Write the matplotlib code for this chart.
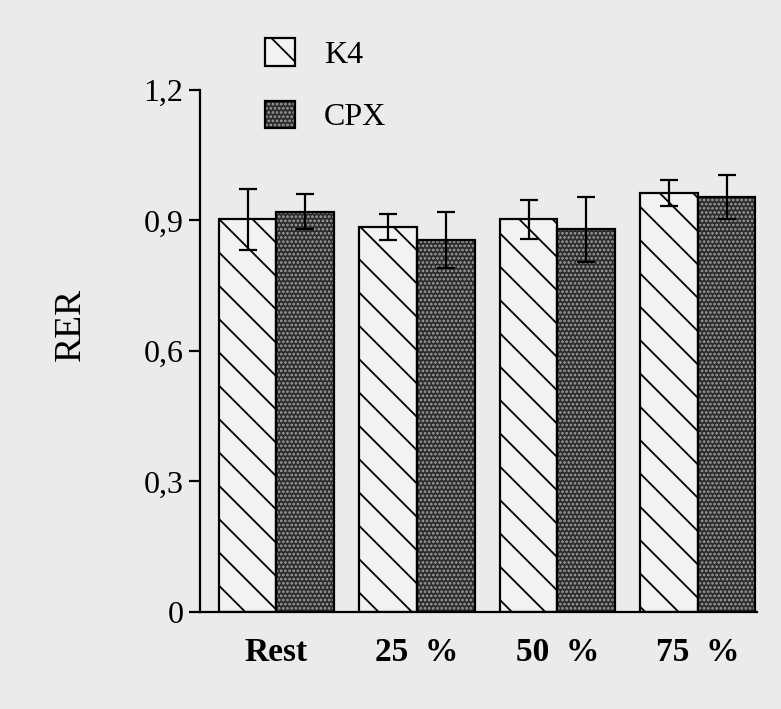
import matplotlib
matplotlib.use("Agg")
import matplotlib.pyplot as plt
import numpy as np
from matplotlib.legend_handler import HandlerTuple

# Daten
groups = ["Rest", "25  %", "50  %", "75  %"]
k4_mean = [0.903, 0.885, 0.903, 0.963]
k4_err = [0.070, 0.030, 0.045, 0.030]
cpx_mean = [0.920, 0.855, 0.880, 0.954]
cpx_err = [0.040, 0.065, 0.075, 0.050]
yticks = [0, 0.3, 0.6, 0.9, 1.2]
yticklabels = ["0", "0,3", "0,6", "0,9", "1,2"]

plt.rcParams["font.family"] = ["Liberation Serif", "DejaVu Serif"]
plt.rcParams["hatch.linewidth"] = 1.3

bg = "#ebebeb"
fig = plt.figure(figsize=(7.81, 7.09), dpi=100, facecolor=bg)
ax = fig.add_axes([0.256, 0.137, 0.713, 0.736])
ax.set_facecolor(bg)

x = np.arange(len(groups))
w = 0.41

# K4: hell mit Schraffur
k4_fill = ax.bar(x - w / 2, k4_mean, w, facecolor="#f2f2f2", edgecolor="black",
                 hatch="\\", linewidth=0, zorder=2)
k4_box = ax.bar(x - w / 2, k4_mean, w, fill=False, edgecolor="black",
                linewidth=1.6, zorder=3)
# CPX: dunkles Punktraster
cpx_fill = ax.bar(x + w / 2, cpx_mean, w, facecolor="#2c2c2c", edgecolor="#a0a0a0",
                  hatch="....", linewidth=0, zorder=2)
cpx_box = ax.bar(x + w / 2, cpx_mean, w, fill=False, edgecolor="black",
                 linewidth=1.6, zorder=3)

ax.errorbar(x - w / 2, k4_mean, yerr=k4_err, fmt="none", ecolor="black",
            elinewidth=1.6, capsize=6.5, capthick=1.6, zorder=4)
ax.errorbar(x + w / 2, cpx_mean, yerr=cpx_err, fmt="none", ecolor="black",
            elinewidth=1.6, capsize=6.5, capthick=1.6, zorder=4)

ax.set_xlim(-0.545, 3.42)
ax.set_ylim(0, 1.2)
ax.set_yticks(yticks)
ax.set_yticklabels(yticklabels, fontsize=23)
ax.set_xticks(x)
ax.set_xticklabels(groups, fontsize=24, fontweight="bold")
ax.tick_params(axis="x", length=0, pad=18)
ax.tick_params(axis="y", direction="out", length=8, width=1.6, pad=4)

for side in ["top", "right"]:
    ax.spines[side].set_visible(False)
for side in ["left", "bottom"]:
    ax.spines[side].set_linewidth(1.6)

ax.set_ylabel("RER", fontsize=27)
ax.yaxis.set_label_coords(-0.202, 0.55)

leg = ax.legend([(k4_fill, k4_box), (cpx_fill, cpx_box)], ["K4", "CPX"],
                handler_map={tuple: HandlerTuple(ndivide=1, pad=0)},
                loc="upper left", bbox_to_anchor=(0.088, 1.13),
                frameon=False, fontsize=23, handlelength=0.95, handleheight=0.95,
                handletextpad=0.9, labelspacing=0.96, borderpad=0)

fig.savefig("out.png", dpi=100, facecolor=bg)
